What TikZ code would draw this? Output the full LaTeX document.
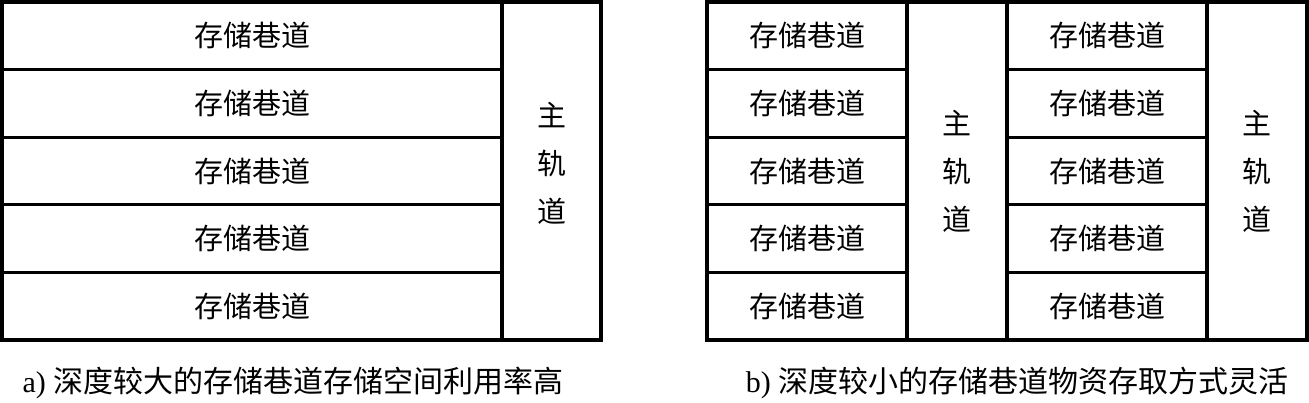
\documentclass[tikz,border=0pt]{standalone}
\usepackage{fontspec}
\setmainfont{Liberation Serif}
\newfontfamily\cjk{Noto Sans CJK SC}
\usetikzlibrary{positioning}

\begin{document}
\begin{tikzpicture}[x=1pt, y=1pt,
  node distance=0pt,
  lane/.style={draw, line width=3.2pt, outer sep=0pt, inner sep=0pt, minimum height=67.6pt, font=\cjk\fontsize{29}{29}\selectfont},
  track/.style={draw, line width=3.2pt, outer sep=0pt, inner sep=0pt, minimum height=338pt, align=center, font=\cjk\fontsize{29}{48}\selectfont},
  caption/.style={font=\fontsize{30}{30}\selectfont}]
  \useasboundingbox (0,0) rectangle (1309,402);
  % a) deep lanes
  \node[lane, minimum width=500pt, anchor=north west] (a1) at (2,400) {存储巷道};
  \node[lane, minimum width=500pt, below=of a1] (a2) {存储巷道};
  \node[lane, minimum width=500pt, below=of a2] (a3) {存储巷道};
  \node[lane, minimum width=500pt, below=of a3] (a4) {存储巷道};
  \node[lane, minimum width=500pt, below=of a4] (a5) {存储巷道};
  \node[track, minimum width=99pt, anchor=north west] (ta) at (a1.north east) {主\\轨\\道\\[-30pt]\mbox{}};
  \node[caption] (capa) at (293,19) {a) {\cjk 深度较大的存储巷道存储空间利用率高}};
  % b) shallow lanes
  \node[lane, minimum width=200pt, anchor=north west] (b1) at (707,400) {存储巷道};
  \node[lane, minimum width=200pt, below=of b1] (b2) {存储巷道};
  \node[lane, minimum width=200pt, below=of b2] (b3) {存储巷道};
  \node[lane, minimum width=200pt, below=of b3] (b4) {存储巷道};
  \node[lane, minimum width=200pt, below=of b4] (b5) {存储巷道};
  \node[track, minimum width=100pt, anchor=north west] (tb1) at (b1.north east) {主\\轨\\道};
  \node[lane, minimum width=200pt, anchor=north west] (c1) at (tb1.north east) {存储巷道};
  \node[lane, minimum width=200pt, below=of c1] (c2) {存储巷道};
  \node[lane, minimum width=200pt, below=of c2] (c3) {存储巷道};
  \node[lane, minimum width=200pt, below=of c3] (c4) {存储巷道};
  \node[lane, minimum width=200pt, below=of c4] (c5) {存储巷道};
  \node[track, minimum width=100pt, anchor=north west] (tb2) at (c1.north east) {主\\轨\\道};
  \node[caption] (capb) at (1017,19) {b) {\cjk 深度较小的存储巷道物资存取方式灵活}};
\end{tikzpicture}
\end{document}
